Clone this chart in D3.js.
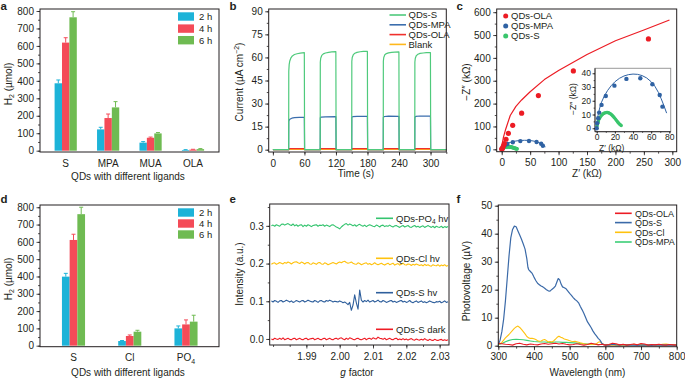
<!DOCTYPE html>
<html>
<head>
<meta charset="utf-8">
<script src="https://cdn.jsdelivr.net/npm/d3@7"></script>
<style>
body { margin: 0; background: #fff; }
svg text { fill: #231f20; }
</style>
</head>
<body>
<svg id="fig" width="685" height="378"></svg>
<script>
// ---- panel a: H2 evolution vs ligand
var aCats = ["S", "MPA", "MUA", "OLA"];
var a2h = [386, 122, 46, 4];
var a4h = [619, 187, 74, 6];
var a6h = [764, 248, 99, 9];
var a2hErr = [19, 12, 6, 2];
var a4hErr = [28, 23, 4, 2];
var a6hErr = [32, 33, 5, 3];

// ---- panel d
var dCats = ["S", "Cl", "PO4"];
var d2h = [399, 27, 100];
var d4h = [611, 56, 123];
var d6h = [760, 81, 139];
var d2hErr = [19, 3, 14];
var d4hErr = [33, 6, 26];
var d6hErr = [40, 8, 37];

var hTicks = [0, 100, 200, 300, 400, 500, 600, 700, 800];
var hours = ["2 h", "4 h", "6 h"];

// ---- panel b: transient photocurrent, [time s, current]
var bS = [[0,0],[30,0],[30.2,51],[31,55.5],[32,57.5],[34,59.5],[37,61],[41,61.9],[46,62.4],[52,62.8],[59.8,63.1],[60.3,0],
  [90,0],[90.2,57],[91,59.5],[93,61.3],[96,62.3],[100,62.9],[106,63.3],[112,63.6],[119.8,63.8],[120.3,0],
  [150,0],[150.2,57.5],[151,60],[153,61.8],[156,62.7],[160,63.3],[166,63.7],[172,63.9],[179.8,64],[180.3,0],
  [210,0],[210.2,57.5],[211,60],[213,61.7],[216,62.5],[220,63],[226,63.3],[232,63.5],[239.8,63.6],[240.3,0],
  [270,0],[270.2,57],[271,59.5],[273,61.2],[276,62.1],[280,62.6],[286,62.9],[292,63.1],[299.8,63.2],[300.3,0],[330,0]];
var bMPA = [[0,0],[30,0],[30.2,18.5],[31,19.3],[33,20],[36,20.5],[41,20.8],[50,21],[59.8,21.1],[60.3,0],
  [90,0],[90.2,20.8],[92,21.2],[100,21.4],[119.8,21.5],[120.3,0],
  [150,0],[150.2,21],[152,21.5],[160,21.7],[179.8,21.7],[180.3,0],
  [210,0],[210.2,21],[212,21.6],[220,21.8],[239.8,21.7],[240.3,0],
  [270,0],[270.2,21],[272,21.7],[280,21.9],[299.8,21.8],[300.3,0],[330,0]];
var bOLA = [[0,0],[30,0],[30.2,0.7],[59.8,0.7],[60.3,0],[90,0],[90.2,0.7],[119.8,0.7],[120.3,0],
  [150,0],[150.2,0.7],[179.8,0.7],[180.3,0],[210,0],[210.2,0.7],[239.8,0.7],[240.3,0],
  [270,0],[270.2,0.7],[299.8,0.7],[300.3,0],[330,0]];
var bBlank = [[0,0],[30,0],[30.2,0.3],[59.8,0.3],[60.3,0],[90,0],[90.2,0.3],[119.8,0.3],[120.3,0],
  [150,0],[150.2,0.3],[179.8,0.3],[180.3,0],[210,0],[210.2,0.3],[239.8,0.3],[240.3,0],
  [270,0],[270.2,0.3],[299.8,0.3],[300.3,0],[330,0]];
var bTimeTicks = [0, 60, 120, 180, 240, 300];
var bCurTicks = [0, 15, 30, 45, 60, 75, 90];

// ---- panel c: Nyquist plots (kOhm)
var cOlaX = [0, 1.2, 2.9, 4.6, 7.6, 11.7, 19.3, 35, 64.5, 126, 258];
var cOlaY = [1, 4, 14, 25, 44, 70, 105, 158, 235, 343, 483];
var cOlaFitX = [0, 1, 3, 7, 15, 25, 35, 50, 75, 100, 150, 200, 250, 295];
var cOlaFitY = [0, 25, 52, 88, 148, 188, 216, 252, 305, 345, 415, 475, 522, 566];
var cMpaX = [0, 0.5, 1.6, 2.7, 5.3, 10, 19.5, 32.7, 48, 61.3, 69.4, 72.4];
var cMpaY = [0, 3.6, 7.3, 11.4, 17, 23.5, 31, 35.9, 36.4, 32, 24.2, 15.7];
var cMpaFitX = [0, 0.5, 1.5, 3, 5, 8, 12, 16, 20, 25, 30, 35, 40, 45, 50, 55, 60, 64, 68, 71, 74, 77];
var cMpaFitY = [0, 5, 9.5, 14, 18.5, 23, 27.5, 31, 33.8, 36.3, 38, 39, 39.4, 39.2, 38.3, 36.6, 33.8, 30.6, 26, 21.5, 16.5, 11];
var cSX = [0, 0.5, 1, 1.5, 2, 3, 4, 5, 6, 7, 8, 9, 10, 11, 12, 13, 14, 15, 16, 17, 18, 19, 20, 21, 22, 23, 24, 25, 26, 27];
var cSY = [0, 1.8, 3.2, 4.4, 5.4, 7, 8.2, 9.1, 9.9, 10.5, 10.9, 11.2, 11.4, 11.5, 11.5, 11.3, 11, 10.6, 10.1, 9.5, 8.8, 8, 7.2, 6.3, 5.4, 4.6, 3.8, 3.1, 2.5, 2];
var cSFitX = [0, 1, 2, 4, 6, 8, 10, 12, 14, 16, 18, 20, 22, 24, 26, 27];
var cSFitY = [0, 3, 5, 7.6, 9.2, 10.2, 10.8, 11, 10.8, 10.2, 9.3, 8, 6.5, 5, 3.4, 2.6];
var cXTicks = [0, 50, 100, 150, 200, 250, 300];
var cYTicks = [0, 100, 200, 300, 400, 500, 600];
var cInXTicks = [0, 20, 40, 60, 80];
var cInYTicks = [0, 10, 20, 30, 40];

// ---- panel e: EPR traces, sampled every 0.0005 from g = 1.9795; offsets in units of 0.001
var eStart = 1.9795, eStep = 0.0005;
var ePO4 = [0,2,-1,3,1,-1,4,5,2,4, 6,3,1,5,0,3,-1,2,3,-2, 2,-1,3,1,-2,1,2,3,-1,2, 1,3,-1,2,0,-2,2,3,0,-3,
  -5,-8,-3,1,4,6,2,5,3,0, 3,-1,2,4,1,-1,2,-2,1,3, 1,-1,-2,2,0,-3,1,2,-2,0, -1,2,-1,-3,0,1,-2,-4,-1,1,
  -3,-1,1,-3,-4,-1,1,-3,-1,-4, -2,0,-4,-2,1,-2,-4,-1,-5,-1, -3,-4,-1,-5,-2,-4,-2];
var eCl = [-2,1,2,-2,0,3,1,-1,3,1, 4,2,-1,2,4,5,2,0,4,2, -1,2,3,-1,-2,2,0,-2,2,3, -1,-2,2,0,-3,-1,1,3,1,-1,
  2,4,2,5,6,3,1,2,4,1, -1,-2,2,0,-3,-1,1,2,-2,0, -3,-1,2,-1,-3,-1,1,-2,-4,-1, 1,-3,-1,1,-4,-2,0,-4,-2,1,
  -3,-4,-1,-2,-5,-2,-4,-1,-3,-5, -3,-6,-2,-5,-3,-6,-7,-3,-5,-6, -3,-7,-4,-6,-3,-7,-5];
var eShv = [1,-2,2,0,-3,1,2,-2,0,3, 1,-2,1,-3,-1,2,0,-2,1,2, -2,0,3,1,-1,-2,2,0,-3,1, 2,-1,-2,2,0,3,1,-2,0,-1,
  -2,1,-1,-4,-2,-5,-9,-3,-24,-10, 17,-4,-21,30,3,-2,2,-1,3,-2, 0,2,-2,0,3,-1,-2,2,0,-3, -1,1,2,-2,0,-3,-1,1,2,-2,
  0,-3,-1,2,-2,-4,-1,1,-3,-1, 1,-3,-1,-4,-2,1,-1,-3,-4,-1, -2,0,-4,-2,1,-3,-1];
var eSdark = [0,-2,2,0,-1,2,-1,3,-2,0, 2,-1,-2,1,2,-2,0,2,-1,-2, 1,2,-2,0,1,2,-2,0,2,-1, -2,1,2,-2,0,2,-1,-2,1,2,
  -1,2,3,0,-2,2,-1,3,1,-1, -2,1,2,-1,-2,0,2,-2,1,2, -1,3,1,0,5,2,1,-1,2,-2, 0,2,-1,-2,1,2,-2,0,-2,1,
  -2,0,-3,-1,1,-2,-3,0,-2,-3, -1,-3,1,-2,-4,-1,-3,-4,-1,-3, -4,-2,-1,-4,-2,-4,-2];
var eBase = [0.3, 0.2, 0.1, 0.0];
var eXTicks = [1.99, 2.00, 2.01, 2.02, 2.03];
var eYTicks = [0, 0.1, 0.2, 0.3];

// ---- panel f: surface photovoltage, [nm, uV]
var fS = [[300,0.3],[305,2],[310,5],[315,9.5],[320,16],[325,24],[330,32],[335,38.5],[340,41.5],[345,42.7],[350,42.5],[355,41],
  [360,39.5],[365,38],[370,36.3],[375,34.5],[380,31],[383,28],[385,27.2],[390,26.5],[395,25.8],[400,24.5],[405,23.3],[410,22.3],
  [415,21.8],[420,21.3],[425,21],[430,20.5],[435,20],[440,19.6],[445,19.5],[450,20.1],[455,20.6],[460,21.3],[465,23],[468,24],
  [472,23.5],[476,22],[480,21],[485,20.7],[490,20.3],[495,19.5],[500,18.7],[505,18],[510,17.2],[515,16.5],[520,16],[525,15.3],
  [530,14],[535,12.8],[540,11.5],[545,10],[550,8.5],[555,7.5],[560,6.5],[565,5.3],[570,4.3],[575,3.5],[580,2.6],[585,2],
  [590,0.9],[595,0.4],[600,0.2],[610,0.2],[620,0.5],[630,0.3],[640,0.2],[650,0.4],[660,0.2],[670,0.3],[680,0.2],[690,0.1],
  [700,0.2],[710,0.3],[720,0.2],[730,0.1],[740,0.3],[750,0.2],[760,0.3],[770,0.2],[780,0.3],[790,0.2],[800,0.1]];
var fCl = [[300,0.3],[310,1.2],[320,2.8],[330,4],[340,5.5],[345,6.2],[350,6.7],[355,7],[360,6.5],[365,5.8],[370,5],[375,4.2],
  [380,3.3],[385,2.8],[390,2.6],[395,2.6],[400,2.5],[405,2.2],[410,1.8],[415,1.6],[420,1.7],[425,2],[430,2.2],[435,1.8],
  [440,1.3],[445,1.5],[450,1.3],[455,1.7],[460,2.3],[465,3],[470,3.4],[475,3],[480,2.8],[485,2.4],[490,2.2],[495,2],
  [500,1.8],[505,1.6],[510,1.5],[515,1.6],[520,1.4],[525,1.2],[530,1],[535,0.9],[540,0.7],[545,0.6],[550,0.5],[555,0.4],
  [560,0.6],[565,0.5],[570,0.4],[575,0.7],[580,1.2],[585,1.4],[590,0.9],[595,0.5],[600,0.3],[610,0.2],[620,0.3],[630,0.2],
  [640,0.1],[650,0.2],[660,0.3],[670,0.2],[680,0.5],[690,0.2],[700,0.3],[710,0.2],[720,0.1],[730,0.2],[740,0.3],[750,0.2],
  [760,0.5],[770,0.6],[780,0.4],[790,0.3],[800,0.2]];
var fMPA = [[300,0.3],[310,0.8],[320,1.4],[330,1.9],[340,2.2],[350,2.3],[360,2.2],[370,2.1],[380,1.9],[390,1.7],[400,1.5],
  [410,1.4],[420,1.3],[430,1.3],[440,1.2],[450,1.2],[460,1.3],[470,1.3],[480,1.2],[490,1.2],[500,1.1],[510,1],[520,0.9],
  [530,0.8],[540,0.7],[550,0.6],[560,0.5],[570,0.5],[580,0.4],[590,0.4],[600,0.4],[620,0.4],[640,0.3],[660,0.4],[680,0.3],
  [700,0.3],[720,0.3],[740,0.4],[760,0.3],[780,0.3],[800,0.3]];
var fOLA = [[300,0.9],[310,0.7],[320,0.5],[330,0.4],[340,0.2],[350,0.7],[360,0.9],[370,0.5],[380,0.3],[390,0.6],[400,0.4],
  [410,0.3],[420,0.6],[430,0.8],[440,0.5],[450,0.7],[460,0.9],[470,0.6],[480,0.8],[490,0.5],[500,0.3],[510,0.4],[520,0.7],
  [530,0.4],[540,0.2],[550,0.4],[560,0.9],[570,0.6],[580,0.3],[590,0.5],[600,0.2],[610,0.4],[620,0.9],[630,0.7],[640,0.3],
  [650,0.5],[660,0.2],[670,0.4],[680,0.6],[690,0.3],[700,0.8],[710,0.6],[720,0.2],[730,0.4],[740,0.3],[750,0.5],[760,0.3],
  [770,0.2],[780,0.4],[790,0.3],[800,0.2]];
var fXTicks = [300, 400, 500, 600, 700, 800];
var fYTicks = [0, 10, 20, 30, 40, 50];

var font = '"Liberation Sans", Arial, Helvetica, sans-serif';
var ink = "#231f20";
var barColors = ["#1db3d8", "#f44b58", "#6fbb52"];
var svg = d3.select("#fig").attr("font-family", font);

function clean(g) {
  g.attr("font-family", font).attr("color", ink);
  g.select(".domain").remove();
  g.selectAll("line").attr("stroke-width", 0.8);
}

function axis(orient, scale, pos, major, minor, fmt, pad, fs, size) {
  var mk = orient == "left" ? d3.axisLeft : d3.axisBottom;
  var tr = orient == "left" ? "translate(" + pos + ",0)" : "translate(0," + pos + ")";
  size = size || 3.5;
  if (minor) {
    svg.append("g").attr("transform", tr)
      .call(mk(scale).tickValues(minor).tickSize(size * 0.55).tickFormat(""))
      .call(clean);
  }
  var g = svg.append("g").attr("transform", tr)
    .call(mk(scale).tickValues(major).tickSize(size).tickPadding(pad).tickFormat(fmt))
    .call(clean);
  g.selectAll("text").attr("font-size", fs || 10);
  return g;
}

function frame(x0, y0, x1, y1, col) {
  svg.append("rect").attr("x", x0).attr("y", y0)
    .attr("width", x1 - x0).attr("height", y1 - y0)
    .attr("fill", "none").attr("stroke", col || ink).attr("stroke-width", 1);
}

function letter(t, x, y) {
  svg.append("text").attr("x", x).attr("y", y).attr("font-size", 11.5)
    .attr("font-weight", "bold").text(t);
}

function xTitle(t, x, y, fs) {
  return svg.append("text").attr("x", x).attr("y", y).attr("text-anchor", "middle")
    .attr("font-size", fs || 10).text(t);
}

function yTitle(x, y, fs) {
  return svg.append("text").attr("transform", "translate(" + x + "," + y + ") rotate(-90)")
    .attr("text-anchor", "middle").attr("font-size", fs || 10);
}

function line(data, x, y, col, w) {
  svg.append("path").datum(data)
    .attr("d", d3.line().x(function(d) { return x(d[0]); }).y(function(d) { return y(d[1]); }))
    .attr("fill", "none").attr("stroke", col).attr("stroke-width", w || 1.1)
    .attr("stroke-linejoin", "round");
}

function dots(xs, ys, x, y, col, r) {
  svg.append("g").selectAll("circle").data(xs).enter().append("circle")
    .attr("cx", function(d) { return x(d); })
    .attr("cy", function(d, i) { return y(ys[i]); })
    .attr("r", r).attr("fill", col);
}

function zip(xs, ys) {
  return xs.map(function(v, i) { return [v, ys[i]]; });
}

function barPanel(cats, cx, y, series, errs, bw) {
  series.forEach(function(vals, si) {
    var col = barColors[si];
    var g = svg.append("g");
    vals.forEach(function(v, ci) {
      var x0 = cx(cats[ci]) + (si - 1.5) * bw;
      var xm = x0 + bw / 2;
      var top = y(v + errs[si][ci]);
      g.append("line").attr("x1", xm).attr("x2", xm).attr("y1", y(v)).attr("y2", top)
        .attr("stroke", col).attr("stroke-width", 1);
      g.append("line").attr("x1", xm - 2).attr("x2", xm + 2).attr("y1", top).attr("y2", top)
        .attr("stroke", col).attr("stroke-width", 1);
      g.append("rect").attr("x", x0).attr("y", y(v)).attr("width", bw)
        .attr("height", y(0) - y(v)).attr("fill", col);
    });
  });
}

function barLegend(rows) {
  hours.forEach(function(h, i) {
    svg.append("rect").attr("x", 178).attr("y", rows[i] - 4.2).attr("width", 16).attr("height", 8.4)
      .attr("fill", barColors[i]);
    svg.append("text").attr("x", 199).attr("y", rows[i] + 3.4).attr("font-size", 9.5).text(h);
  });
}

function lineLegend(names, cols, rows, x0, len, tx, fs) {
  names.forEach(function(n, i) {
    svg.append("line").attr("x1", x0).attr("x2", x0 + len).attr("y1", rows[i]).attr("y2", rows[i])
      .attr("stroke", cols[i]).attr("stroke-width", 1.6);
    var t = svg.append("text").attr("x", tx).attr("y", rows[i] + 3.3).attr("font-size", fs || 9.5);
    if (n.indexOf("PO4") >= 0) {
      t.append("tspan").text("QDs-PO");
      t.append("tspan").attr("font-size", 6.5).attr("dy", 2).text("4");
      t.append("tspan").attr("dy", -2).text(" hv");
    } else {
      t.text(n);
    }
  });
}

// ================= a =================
var aX = d3.scalePoint().domain(aCats).range([65.7, 193]);
var aY = d3.scaleLinear().domain([-7.5, 811.5]).range([152, 9]);
barPanel(aCats, aX, aY, [a2h, a4h, a6h], [a2hErr, a4hErr, a6hErr], 7.4);
frame(40, 9, 219, 152);
axis("left", aY, 40, hTicks, d3.range(0, 801, 50), d3.format("d"), 2.5);
aCats.forEach(function(c) {
  svg.append("text").attr("x", aX(c)).attr("y", 167).attr("text-anchor", "middle").attr("font-size", 10).text(c);
});
barLegend([16.5, 28.6, 40.2]);
xTitle("QDs with different ligands", 128, 179.5);
var ta = yTitle(11.5, 84);
ta.append("tspan").text("H");
ta.append("tspan").attr("font-size", 7).attr("dy", 2.5).text("2");
ta.append("tspan").attr("dy", -2.5).text(" (µmol)");
letter("a", 0.5, 9.5);

// ================= d =================
var dX = d3.scalePoint().domain(dCats).range([73.5, 186]);
var dY = d3.scaleLinear().domain([-5.8, 813]).range([346.7, 205]);
barPanel(dCats, dX, dY, [d2h, d4h, d6h], [d2hErr, d4hErr, d6hErr], 7.7);
frame(40, 205, 219, 346.7);
axis("left", dY, 40, hTicks, d3.range(0, 801, 50), d3.format("d"), 2.5);
dCats.forEach(function(c) {
  var t = svg.append("text").attr("x", dX(c)).attr("y", 361).attr("text-anchor", "middle").attr("font-size", 10);
  if (c == "PO4") {
    t.append("tspan").text("PO");
    t.append("tspan").attr("font-size", 7).attr("dy", 2.5).text("4");
  } else {
    t.text(c);
  }
});
barLegend([212.5, 223.5, 234.5]);
xTitle("QDs with different ligands", 128, 376);
var td = yTitle(11.5, 279);
td.append("tspan").text("H");
td.append("tspan").attr("font-size", 7).attr("dy", 2.5).text("2");
td.append("tspan").attr("dy", -2.5).text(" (µmol)");
letter("d", 0.5, 203);

// ================= b =================
var bX = d3.scaleLinear().domain([-8, 330]).range([268.7, 446.3]);
var bY = d3.scaleLinear().domain([-1.5, 91.5]).range([152, 9]);
line(bBlank, bX, bY, "#ffb81c", 1.3);
line(bOLA, bX, bY, "#f0302c", 1.3);
line(bMPA, bX, bY, "#3b6ead", 1.2);
line(bS, bX, bY, "#4fca7c", 1.2);
frame(268.7, 9, 446.3, 152);
axis("left", bY, 268.7, bCurTicks, d3.range(0, 91, 7.5), d3.format("d"), 2.5);
axis("bottom", bX, 152, bTimeTicks, d3.range(0, 331, 30), d3.format("d"), 4);
lineLegend(["QDs-S", "QDs-MPA", "QDs-OLA", "Blank"], ["#4fca7c", "#3b6ead", "#f0302c", "#ffb81c"],
  [15, 24.8, 34.6, 44.4], 389.5, 16.5, 408.5, 9.5);
xTitle("Time (s)", 356, 177);
var tb = yTitle(243, 82);
tb.append("tspan").text("Current (µA cm");
tb.append("tspan").attr("font-size", 7).attr("dy", -4).text("−2");
tb.append("tspan").attr("dy", 4).text(")");
letter("b", 229.5, 9.5);

// ================= c =================
var cX = d3.scaleLinear().domain([-8.8, 307.7]).range([496.7, 676.7]);
var cY = d3.scaleLinear().domain([-10.5, 614]).range([151.7, 9]);
line(zip(cOlaFitX, cOlaFitY), cX, cY, "#ec1c24", 1.2);
line(zip(cMpaFitX, cMpaFitY), cX, cY, "#2f62a3", 1);
line(zip(cSFitX, cSFitY), cX, cY, "#39c56c", 1);
dots(cSX, cSY, cX, cY, "#39c56c", 1.9);
dots(cMpaX, cMpaY, cX, cY, "#2f62a3", 2.2);
dots(cOlaX, cOlaY, cX, cY, "#ec1c24", 2.6);
frame(496.7, 9, 676.7, 151.7);
axis("left", cY, 496.7, cYTicks, d3.range(0, 601, 50), d3.format("d"), 2.5);
axis("bottom", cX, 151.7, cXTicks, d3.range(0, 301, 25), d3.format("d"), 4);
[["QDs-OLA", "#ec1c24"], ["QDs-MPA", "#2f62a3"], ["QDs-S", "#39c56c"]].forEach(function(d, i) {
  var yy = 16 + i * 10;
  svg.append("circle").attr("cx", 505.7).attr("cy", yy).attr("r", 2.5).attr("fill", d[1]);
  svg.append("text").attr("x", 511).attr("y", yy + 3.4).attr("font-size", 9.5).text(d[0]);
});
xTitle("Z′ (kΩ)", 587, 177);
yTitle(470, 82).text("−Z″ (kΩ)");
letter("c", 456.5, 9.5);

// inset
var iX = d3.scaleLinear().domain([-1.9, 81.5]).range([595, 670.7]);
var iY = d3.scaleLinear().domain([-2.5, 43.6]).range([131.7, 68.3]);
svg.append("rect").attr("x", 595).attr("y", 68.3).attr("width", 75.7).attr("height", 63.4)
  .attr("fill", "#fff").attr("stroke", "#9a9a9a").attr("stroke-width", 1);
svg.append("path").attr("d", "M595,68.3V131.7H670.7").attr("fill", "none").attr("stroke", ink).attr("stroke-width", 0.9);
line(zip(cMpaFitX, cMpaFitY), iX, iY, "#2f62a3", 1);
line(zip(cSFitX, cSFitY), iX, iY, "#39c56c", 1);
dots(cSX, cSY, iX, iY, "#39c56c", 1.7);
dots(cMpaX, cMpaY, iX, iY, "#2f62a3", 2.2);
axis("left", iY, 595, cInYTicks, d3.range(0, 41, 5), d3.format("d"), 1.5, 8.5, 2.5);
axis("bottom", iX, 131.7, cInXTicks, d3.range(0, 81, 10), d3.format("d"), 0.5, 8.5, 2);
xTitle("Z′ (kΩ)", 611.7, 150.5, 8.5);
yTitle(575.5, 99, 8.5).text("−Z″ (kΩ)");

// ================= e =================
var eX = d3.scaleLinear().domain([1.979, 2.0328]).range([269.7, 449]);
var eY = d3.scaleLinear().domain([-0.016, 0.358]).range([345, 204]);
var eCols = ["#35c46f", "#ffc20e", "#2f5f9c", "#ee1c25"];
[ePO4, eCl, eShv, eSdark].forEach(function(arr, k) {
  var pts = arr.map(function(v, i) { return [eStart + i * eStep, eBase[k] + v / 1000]; });
  line(pts, eX, eY, eCols[k], 1.1);
});
frame(269.7, 204, 449, 345);
axis("left", eY, 269.7, eYTicks, d3.range(0, 0.351, 0.05), d3.format(".1f"), 2.5);
axis("bottom", eX, 345, eXTicks, d3.range(1.98, 2.0326, 0.005), d3.format(".2f"), 4);
lineLegend(["QDs-PO4 hv", "QDs-Cl hv", "QDs-S hv", "QDs-S dark"], eCols,
  [218.3, 258.3, 292.7, 329.3], 376, 17, 396, 9.5);
var te = xTitle("", 357, 376);
te.append("tspan").attr("font-style", "italic").text("g");
te.append("tspan").text(" factor");
yTitle(243, 274).text("Intensity (a.u.)");
letter("e", 229.5, 203);

// ================= f =================
var fX = d3.scaleLinear().domain([300, 800]).range([498.3, 676.7]);
var fY = d3.scaleLinear().domain([-0.36, 50.25]).range([346.7, 205]);
line(fMPA, fX, fY, "#3dcf77", 1.1);
line(fCl, fX, fY, "#ffc20e", 1.1);
line(fS, fX, fY, "#3b6aa8", 1.2);
line(fOLA, fX, fY, "#ec1c24", 1.1);
frame(498.3, 205, 676.7, 346.7);
axis("left", fY, 498.3, fYTicks, d3.range(0, 51, 5), d3.format("d"), 2.5);
axis("bottom", fX, 346.7, fXTicks, d3.range(300, 801, 50), d3.format("d"), 3);
lineLegend(["QDs-OLA", "QDs-S", "QDs-Cl", "QDs-MPA"], ["#ec1c24", "#3b6aa8", "#ffc20e", "#3dcf77"],
  [213.3, 222.6, 232.3, 242], 615, 16.7, 635, 9);
xTitle("Wavelength (nm)", 587.5, 376);
yTitle(470, 281).text("Photovoltage (µV)");
letter("f", 456.5, 203);
</script>
</body>
</html>
